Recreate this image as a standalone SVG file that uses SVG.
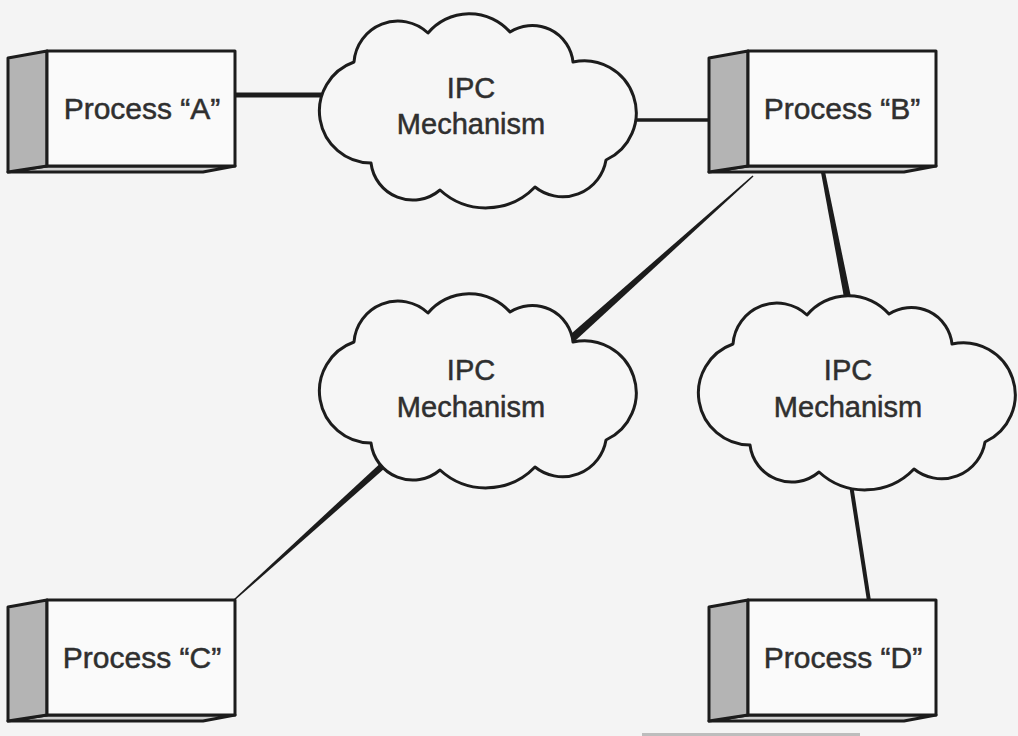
<svg xmlns="http://www.w3.org/2000/svg" xmlns:xlink="http://www.w3.org/1999/xlink" width="1018" height="736" viewBox="0 0 1018 736">
  <style>
    .bg { fill: #f4f4f4; }
    .front { fill: #fafafa; stroke: #1c1c1c; stroke-width: 3; stroke-linejoin: round; }
    .side { fill: #b4b4b4; stroke: #1c1c1c; stroke-width: 3; stroke-linejoin: round; }
    .bottom { fill: #cfcfcf; stroke: #1c1c1c; stroke-width: 3; stroke-linejoin: round; }
    .cloud { fill: #f6f6f6; stroke: #1c1c1c; stroke-width: 3; stroke-linejoin: round; }
    .lbl { font-family: "Liberation Sans", Arial, sans-serif; font-size: 30px; fill: #2f2f2f; stroke: #2f2f2f; stroke-width: 0.5; text-anchor: middle; }
    .clbl { font-family: "Liberation Sans", Arial, sans-serif; font-size: 29px; fill: #2f2f2f; stroke: #2f2f2f; stroke-width: 0.5; text-anchor: middle; }
    .conn { stroke: #1c1c1c; stroke-linecap: butt; fill: none; }
    .taper { fill: #1c1c1c; stroke: none; }
  </style>
  <defs>
    <path id="cloudShape" d="M -106 53 A 52 52 0 0 1 -123 -48 A 44 44 0 0 1 -49 -77 A 54 54 0 0 1 33 -78 A 41 41 0 0 1 96 -48 A 52 52 0 0 1 129 50 A 44 44 0 0 1 58 77 A 68 68 0 0 1 -37 80 A 42 42 0 0 1 -106 53 Z"/>
    <g id="boxShape">
      <polygon class="bottom" points="0,121 39,115 227,115 195,121"/>
      <polygon class="side" points="0,7 39,0 39,115 0,121"/>
      <rect class="front" x="39" y="0" width="188" height="115"/>
    </g>
  </defs>

  <rect class="bg" x="0" y="0" width="1018" height="736"/>

  <g id="connectors">
    <line class="conn" x1="234" y1="95" x2="330" y2="95" stroke-width="5"/>
    <line class="conn" x1="625" y1="120" x2="710" y2="120" stroke-width="3.5"/>
    <polygon class="taper" points="753.5,176.6 752.5,175.4 566.3,338.0 571.7,344.0"/>
    <polygon class="taper" points="825,171.6 821,172.4 845.5,305.7 852.5,304.3"/>
    <polygon class="taper" points="392.4,461.6 387.7,456.4 233.5,599.4 234.5,600.6"/>
    <line class="conn" x1="850" y1="478" x2="869" y2="601" stroke-width="4"/>
  </g>

  <g id="processA" transform="translate(8,51)">
    <use xlink:href="#boxShape"/>
    <text class="lbl" x="134" y="68">Process “A”</text>
  </g>
  <g id="processB" transform="translate(709,51)">
    <use xlink:href="#boxShape"/>
    <text class="lbl" x="133" y="68">Process “B”</text>
  </g>
  <g id="processC" transform="translate(8,600)">
    <use xlink:href="#boxShape"/>
    <text class="lbl" x="134" y="68">Process “C”</text>
  </g>
  <g id="processD" transform="translate(709,600)">
    <use xlink:href="#boxShape"/>
    <text class="lbl" x="134" y="68">Process “D”</text>
  </g>

  <g id="ipc1" transform="translate(477,110)">
    <use xlink:href="#cloudShape" class="cloud"/>
    <text class="clbl" x="-6" y="-12">IPC</text>
    <text class="clbl" x="-6" y="24">Mechanism</text>
  </g>
  <g id="ipc2" transform="translate(477,390)">
    <use xlink:href="#cloudShape" class="cloud"/>
    <text class="clbl" x="-6" y="-10">IPC</text>
    <text class="clbl" x="-6" y="27">Mechanism</text>
  </g>
  <g id="ipc3" transform="translate(856,392)">
    <use xlink:href="#cloudShape" class="cloud"/>
    <text class="clbl" x="-8" y="-12">IPC</text>
    <text class="clbl" x="-8" y="25">Mechanism</text>
  </g>

  <rect x="642" y="733" width="218" height="3" fill="#bdbdbd"/>
</svg>
